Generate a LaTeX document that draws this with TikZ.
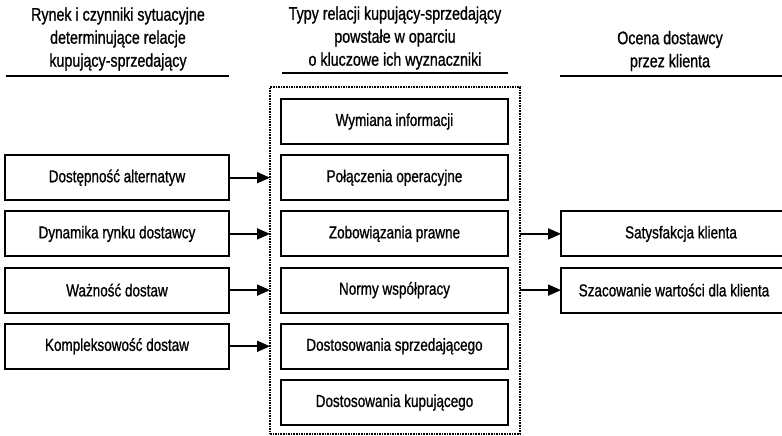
\documentclass[tikz,border=0pt]{standalone}
\usepackage{fontspec}
\setmainfont{Liberation Sans}[FakeStretch=0.78,FakeBold=0.9]
\usetikzlibrary{arrows.meta}
\begin{document}
\begin{tikzpicture}[x=1pt,y=-1pt,
  every node/.style={inner sep=0pt,outer sep=0pt},
  box/.style={draw,line width=2pt,minimum height=45pt,font=\fontsize{17.3}{19}\selectfont},
  leftbox/.style={box,minimum width=224pt},
  midbox/.style={box,minimum width=227pt},
  rightbox/.style={box,minimum width=240pt},
  head/.style={align=center,font=\fontsize{18.3}{23}\selectfont},
  rule/.style={line width=2.2pt},
  arr/.style={line width=1.8pt,-{Triangle[length=13pt,width=11pt]}},
  group/.style={draw,densely dotted,line width=1.6pt}]
\useasboundingbox (0,0) rectangle (782,436);

% column headings
\node[head] (h1) at (118,39) {Rynek i czynniki sytuacyjne\\determinujące relacje\\kupujący-sprzedający};
\node[head] (h2) at (395,38) {Typy relacji kupujący-sprzedający\\powstałe w oparciu\\o kluczowe ich wyznaczniki};
\node[head] (h3) at (670,51) {Ocena dostawcy\\przez klienta};
\coordinate (u1a) at (6,76);   \coordinate (u1b) at (229,76);
\coordinate (u2a) at (282,73); \coordinate (u2b) at (508,73);
\coordinate (u3a) at (560,76); \coordinate (u3b) at (782,76);
\draw[rule] (u1a) -- (u1b);
\draw[rule] (u2a) -- (u2b);
\draw[rule] (u3a) -- (u3b);

% dotted frame around the relation types
\node[group,minimum width=250pt,minimum height=347pt] (grp) at (395,260.5) {};

% relation types
\node[midbox] (m1) at (394.5,121.5) {Wymiana informacji};
\node[midbox] (m2) at (394.5,177.7) {Połączenia operacyjne};
\node[midbox] (m3) at (394.5,233.9) {Zobowiązania prawne};
\node[midbox] (m4) at (394.5,290.1) {Normy współpracy};
\node[midbox] (m5) at (394.5,346.3) {Dostosowania sprzedającego};
\node[midbox] (m6) at (394.5,402.5) {Dostosowania kupującego};

% situational factors
\node[leftbox] (l1) at (117,177.7) {Dostępność alternatyw};
\node[leftbox] (l2) at (117,233.9) {Dynamika rynku dostawcy};
\node[leftbox] (l3) at (117,290.1) {Ważność dostaw};
\node[leftbox] (l4) at (117,346.3) {Kompleksowość dostaw};

% supplier evaluation
\node[rightbox] (r1) at (681,233.9) {Satysfakcja klienta};
\node[rightbox] (r2) at (681,290.1) {\hspace*{-14pt}Szacowanie wartości dla klienta};

% connectors
\foreach \n in {1,2,3,4}
  \draw[arr] (l\n.east) -- (l\n.east -| grp.west);
\draw[arr] (m3.east -| grp.east) -- (r1.west);
\draw[arr] (m4.east -| grp.east) -- (r2.west);
\end{tikzpicture}
\end{document}
